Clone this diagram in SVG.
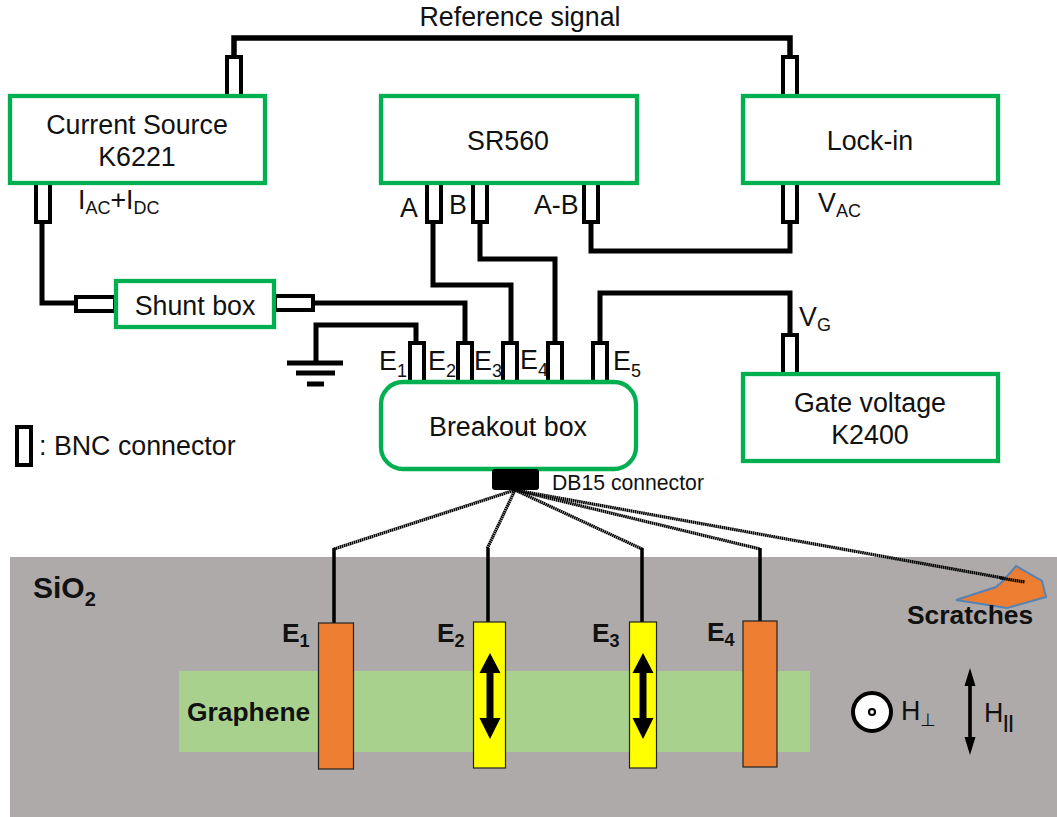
<svg xmlns="http://www.w3.org/2000/svg" width="1057" height="817" viewBox="0 0 1057 817">
<style>
text{font-family:"Liberation Sans",Arial,sans-serif;font-size:26.800px;fill:#111}
.m{text-anchor:middle}
.b{font-weight:bold;font-size:26.400px}
.s{font-size:18px}
.box{fill:#fff;stroke:#00b050;stroke-width:4.300}
.bnc{fill:#fff;stroke:#000;stroke-width:4}
.w{fill:none;stroke:#000;stroke-width:5}
.d{fill:none;stroke:#000;stroke-width:3.200;stroke-dasharray:1.6 .5}
.t{fill:none;stroke:#000;stroke-width:3.500}
.el{stroke:#222;stroke-width:1.200}
</style>
<rect width="1057" height="817" fill="#fff"/>
<g id="substrate"><rect x="10" y="557" width="1047" height="260" fill="#aeaaaa"/><text class="b" x="33" y="598" style="font-size:30px">SiO<tspan dy="8" style="font-size:20px">2</tspan></text></g>
<g id="graphene"><rect x="179" y="671" width="631" height="81" fill="#a9d18e"/><text class="b" x="187" y="721">Graphene</text></g>
<g id="connectors">
<path class="w" d="M234 57V38H790V57" style="stroke-width:5.500"/>
<path class="w" d="M42 222V303H76"/>
<path class="w" d="M433 222V285H511V343"/>
<path class="w" d="M480 222V259H555V343"/>
<path class="w" d="M591 222V251H790V222"/>
<path class="w" d="M600 343V293H790V335"/>
<path class="w" d="M313 303H465V343"/>
<path class="w" d="M416 343V325H316V363"/>
<path class="d" d="M515 490L334 549"/>
<path class="d" d="M515 490L487 549"/>
<path class="d" d="M515 490L642 549"/>
<path class="d" d="M515 490L760 549"/>
<path class="d" d="M515 490L1025 582"/>
<path class="t" d="M334 548V623M488 548V622M642 548V622M760 548V621"/>
<path d="M287 363H343M296 373H335M307 384H324" fill="none" stroke="#000" stroke-width="5"/>
</g>
<g id="bnc-connectors">
<rect class="bnc" x="227" y="57" width="14" height="39"/>
<rect class="bnc" x="783" y="57" width="14" height="39"/>
<rect class="bnc" x="36" y="183" width="14" height="39"/>
<rect class="bnc" x="427" y="183" width="14" height="39"/>
<rect class="bnc" x="473" y="183" width="14" height="39"/>
<rect class="bnc" x="584" y="183" width="14" height="39"/>
<rect class="bnc" x="783" y="183" width="14" height="39"/>
<rect class="bnc" x="76" y="297" width="39" height="14"/>
<rect class="bnc" x="275" y="296" width="38" height="14"/>
<rect class="bnc" x="410" y="343" width="14" height="39"/>
<rect class="bnc" x="458" y="343" width="14" height="39"/>
<rect class="bnc" x="503" y="343" width="14" height="39"/>
<rect class="bnc" x="548" y="343" width="14" height="39"/>
<rect class="bnc" x="593" y="343" width="14" height="39"/>
<rect class="bnc" x="783" y="335" width="14" height="39"/>
<rect class="bnc" x="17" y="427" width="14" height="38"/>
</g>
<g id="current-source"><rect class="box" x="10" y="96" width="255" height="87"/><text class="m" x="137" y="134">Current Source</text><text class="m" x="137" y="166">K6221</text></g>
<g id="sr560"><rect class="box" x="381" y="96" width="256" height="87"/><text class="m" x="508" y="150">SR560</text></g>
<g id="lock-in"><rect class="box" x="743" y="96" width="255" height="87"/><text class="m" x="870" y="150">Lock-in</text></g>
<g id="shunt-box"><rect class="box" x="116" y="281" width="158" height="46"/><text class="m" x="195" y="315">Shunt box</text></g>
<g id="gate-voltage"><rect class="box" x="743" y="374" width="255" height="87"/><text class="m" x="870" y="412">Gate voltage</text><text class="m" x="870" y="444">K2400</text></g>
<g id="breakout-box"><rect class="box" x="381" y="382" width="255" height="87" rx="22"/><text class="m" x="508" y="436">Breakout box</text></g>
<g id="db15"><rect x="492" y="469" width="47" height="21" rx="3" fill="#000"/><text x="552" y="490" style="font-size:21.200px">DB15 connector</text></g>
<g id="labels">
<text class="m" x="520" y="26">Reference signal</text>
<text x="78" y="209">I<tspan class="s" dy="5">AC</tspan><tspan dy="-5">+I</tspan><tspan class="s" dy="5">DC</tspan></text>
<text x="400" y="217">A</text><text x="449" y="214">B</text><text x="534" y="214">A-B</text>
<text x="818" y="212">V<tspan class="s" dy="5">AC</tspan></text>
<text x="799" y="326">V<tspan class="s" dy="5">G</tspan></text>
<text x="379" y="370">E<tspan class="s" dy="7">1</tspan></text>
<text x="428" y="370">E<tspan class="s" dy="7">2</tspan></text>
<text x="474" y="370">E<tspan class="s" dy="7">3</tspan></text>
<text x="520" y="369">E<tspan class="s" dy="7">4</tspan></text>
<text x="613" y="370">E<tspan class="s" dy="7">5</tspan></text>
<text x="39" y="455">: BNC connector</text>
</g>
<g id="electrode-e1"><rect class="el" x="318.500" y="623" width="35" height="146" fill="#ed7d31"/><text class="b" x="282" y="642">E<tspan class="s" dy="5">1</tspan></text></g>
<g id="electrode-e2"><rect class="el" x="473.500" y="622" width="32" height="146" fill="#ff0"/><path d="M490 653L500.500 673H493.500V718H500.500L490 739L479.500 718H486.500V673H479.500Z"/><text class="b" x="437" y="642">E<tspan class="s" dy="5">2</tspan></text></g>
<g id="electrode-e3"><rect class="el" x="629.500" y="622" width="27" height="146" fill="#ff0"/><path d="M643 653L653.500 673H646.500V718H653.500L643 739L632.500 718H639.500V673H632.500Z"/><text class="b" x="592" y="642">E<tspan class="s" dy="5">3</tspan></text></g>
<g id="electrode-e4"><rect class="el" x="743" y="621" width="34" height="146" fill="#ed7d31"/><text class="b" x="707" y="641">E<tspan class="s" dy="5">4</tspan></text></g>
<g id="scratches"><path d="M956 600L996 587L1003 581L1016 566L1042 581L1046 597L1007 608Z" fill="#ed7d31" stroke="#5583b5" stroke-width="2"/><path class="d" d="M1000 578L1025 582"/><text class="b" x="907" y="624">Scratches</text></g>
<g id="field-perp"><circle cx="872" cy="712" r="19" fill="#fff" stroke="#000" stroke-width="4"/><circle cx="872" cy="712" r="3" fill="#fff" stroke="#000" stroke-width="2.200"/><text x="901" y="720">H<tspan class="s" dy="6">⊥</tspan></text></g>
<g id="field-parallel"><path d="M970 668L975.500 686H971.800V737H975.500L970 755L964.500 737H968.200V686H964.500Z"/><text x="984" y="722">H<tspan class="s" dy="6" font-weight="bold">||</tspan></text></g>
</svg>
